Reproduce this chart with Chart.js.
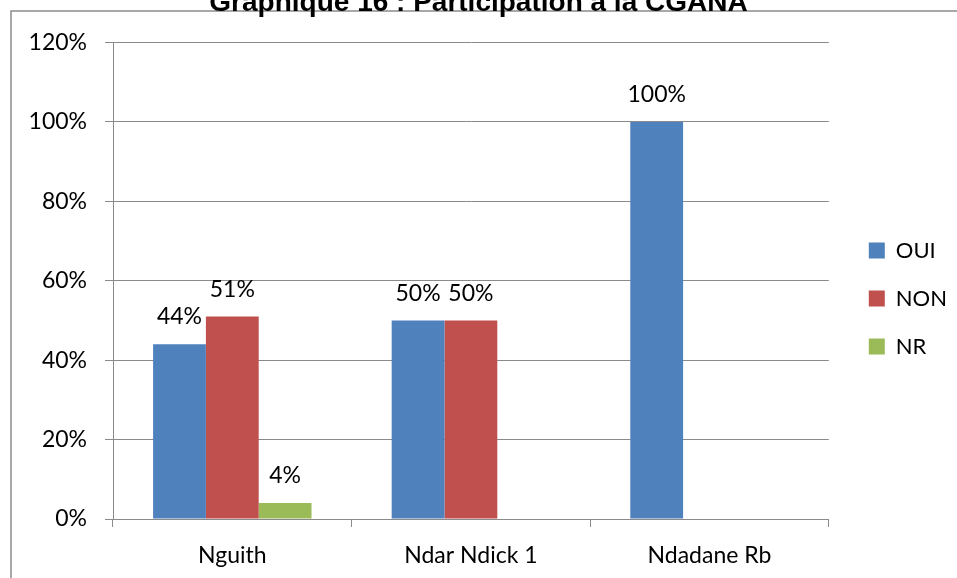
<!DOCTYPE html>
<html>
<head>
<meta charset="utf-8">
<script src="https://cdn.jsdelivr.net/npm/chart.js@4.4.0/dist/chart.umd.min.js"></script>
<style>
    html, body { margin: 0; padding: 0; background: #fff; overflow: hidden; }
    #wrap { position: absolute; left: 0; top: -19px; width: 957px; height: 597px; }
</style>
</head>
<body>
<div id="wrap"><canvas id="chart"></canvas></div>
<script>
// Chart data
const categories = ['Nguith', 'Ndar Ndick 1', 'Ndadane Rb'];
const ouiValues = [44, 50, 100];
const nonValues = [51, 50, null];
const nrValues = [4, null, null];
const yTicks = [0, 20, 40, 60, 80, 100, 120];

const gridGray = '#8a8a8a';
const labelFont = { family: 'Lato', size: 23 };

// Outer frame (chart border, cut off like the original)
const framePlugin = {
    id: 'frame',
    beforeDraw(chart) {
        const ctx = chart.ctx;
        ctx.save();
        ctx.strokeStyle = '#8c8c8c';
        ctx.lineWidth = 1.5;
        ctx.strokeRect(11, 30, 2000, 2000);
        ctx.restore();
    }
};

// Value labels above bars
const valueLabels = {
    id: 'valueLabels',
    afterDatasetsDraw(chart) {
        const ctx = chart.ctx;
        ctx.save();
        ctx.font = '23px Lato';
        ctx.fillStyle = '#000';
        ctx.textAlign = 'center';
        ctx.textBaseline = 'alphabetic';
        chart.data.datasets.forEach((ds, i) => {
            const meta = chart.getDatasetMeta(i);
            meta.data.forEach((bar, j) => {
                const v = ds.data[j];
                if (v === null || v === undefined) return;
                ctx.fillText(v + '%', bar.x, bar.y - 20);
            });
        });
        ctx.restore();
    }
};

const ctx = document.getElementById('chart').getContext('2d');
const chart = new Chart(ctx, {
    type: 'bar',
    data: {
        labels: categories,
        datasets: [
            { label: 'OUI', data: ouiValues, backgroundColor: '#4F81BD' },
            { label: 'NON', data: nonValues, backgroundColor: '#C0504D' },
            { label: 'NR', data: nrValues, backgroundColor: '#9BBB59' }
        ]
    },
    options: {
        responsive: true,
        maintainAspectRatio: false,
        animation: false,
        categoryPercentage: 0.664,
        barPercentage: 1,
        layout: {
            padding: { top: 0, right: 0, left: 0, bottom: 0 }
        },
        plugins: {
            title: {
                display: true,
                text: 'Graphique 16 : Participation à la CGANA',
                color: '#000',
                font: { family: 'Liberation Sans', size: 28, weight: 'bold' },
                padding: { top: 5, bottom: 23 }
            },
            legend: {
                position: 'right',
                title: {
                    display: true,
                    text: ' ',
                    font: { size: 10 },
                    padding: 13
                },
                labels: {
                    color: '#000',
                    font: { family: 'Lato', size: 22 },
                    boxWidth: 16,
                    boxHeight: 16,
                    padding: 26
                }
            },
            tooltip: { enabled: false }
        },
        scales: {
            x: {
                grid: {
                    drawOnChartArea: false,
                    drawTicks: true,
                    tickLength: 8,
                    color: gridGray
                },
                border: { color: gridGray },
                ticks: {
                    color: '#000',
                    font: labelFont,
                    padding: 15
                },
                afterFit: (scale) => { scale.height = 59; }
            },
            y: {
                min: 0,
                max: 120,
                afterBuildTicks: (scale) => {
                    scale.ticks = yTicks.map(v => ({ value: v }));
                },
                grid: {
                    color: gridGray,
                    tickLength: 8
                },
                border: { color: gridGray },
                ticks: {
                    color: '#000',
                    font: labelFont,
                    padding: 18,
                    callback: (value) => value + '%'
                },
                afterFit: (scale) => { scale.width = 113; }
            },
            gap: {
                type: 'linear',
                position: 'right',
                display: true,
                grid: { display: false },
                border: { display: false },
                ticks: { display: false },
                afterFit: (scale) => { scale.width = 14; }
            }
        }
    },
    plugins: [framePlugin, valueLabels]
});
</script>
</body>
</html>
